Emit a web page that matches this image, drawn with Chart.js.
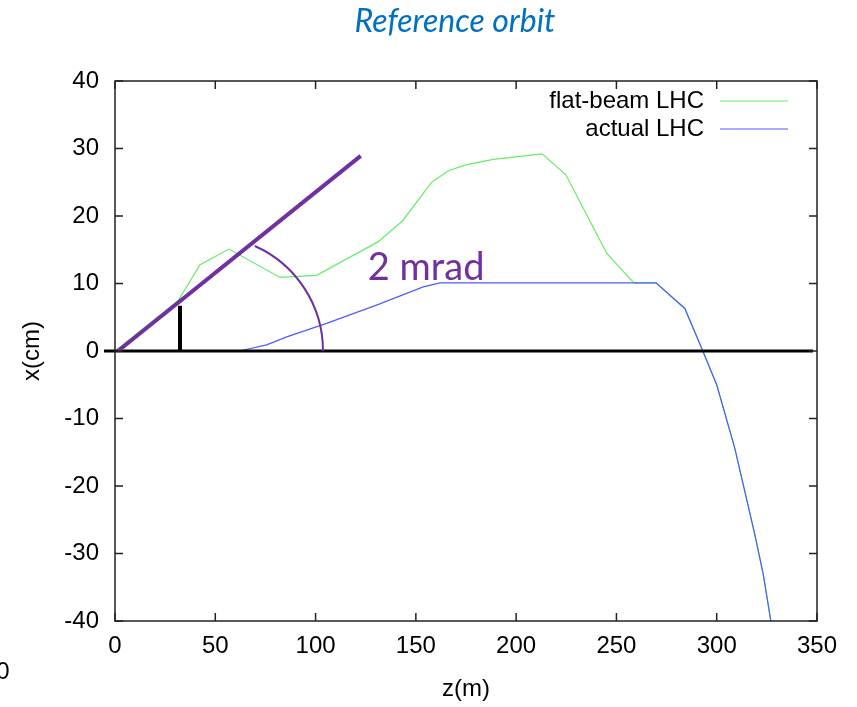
<!DOCTYPE html>
<html>
<head>
<meta charset="utf-8">
<title>Reference orbit</title>
<script src="https://cdn.jsdelivr.net/npm/chart.js@4/dist/chart.umd.min.js"></script>
<style>
  html, body { margin: 0; padding: 0; background: #fff; }
  canvas { display: block; }
</style>
</head>
<body>
<canvas id="orbitChart" width="857" height="707"></canvas>
<script>
// ---- orbit data (z in m, x in cm) ----
const flatZ = [0, 31.6, 42.4, 56.8, 82.3, 100.5, 131.3, 143.4, 157.9, 166.2, 175.3, 188.6, 213, 224.8, 245.1, 258.7, 269.7, 284.1, 292.5, 300, 309, 319, 323.2, 327];
const flatX = [0, 7.5, 12.8, 15.1, 10.9, 11.2, 16.2, 19.3, 25, 26.7, 27.6, 28.4, 29.2, 26.1, 14.5, 10.1, 10.1, 6.3, 0.4, -5, -14.4, -27.2, -33.1, -40];

const actualZ = [0, 62, 75.6, 85.6, 105.5, 130.4, 153.7, 162, 269.7, 284.1, 292.5, 300, 309, 319, 323.2, 327];
const actualX = [0, 0, 0.9, 2.1, 4.1, 6.8, 9.5, 10.1, 10.1, 6.3, 0.4, -5, -14.4, -27.2, -33.1, -40];

// ---- annotation lines ----
const slopeZ = [1.5, 122.5];     // 2 mrad crossing line
const slopeX = [0, 28.9];
const offsetZ = [32.4, 32.4];    // black marker
const offsetX = [0, 6.7];
const axisZ = [-5.5, 348];       // thick x = 0 line
const axisX = [0, 0];
const arcCenter = [46.4, 0];     // z, x
const arcRadiusZ = 57.3;
const arcAngles = [-66, 0];      // degrees
const angleLabel = "2 mrad";
const angleLabelPos = [126, 12.4];

// ---- axes ----
const zTicks = [0, 350, 50];
const xTicks = [-40, 40, 10];

const chartTitle = "Reference orbit";
const PURPLE = "#7030a0";

function toPoints(zs, xs) {
  return zs.map(function (z, i) { return { x: z, y: xs[i] }; });
}

// title, frame, inward ticks, legend and the angle annotation
const decorations = {
  id: "decorations",
  afterDatasetsDraw: function (chart) {
    const ctx = chart.ctx;
    const area = chart.chartArea;
    const sx = chart.scales.x;
    const sy = chart.scales.y;

    ctx.save();

    // title
    ctx.fillStyle = "#0070c0";
    ctx.font = "italic 32px Lato";
    ctx.textAlign = "center";
    ctx.textBaseline = "middle";
    ctx.fillText(chartTitle, 455, 22);

    // angle arc
    const cx = sx.getPixelForValue(arcCenter[0]);
    const cy = sy.getPixelForValue(arcCenter[1]);
    const r = sx.getPixelForValue(arcCenter[0] + arcRadiusZ) - cx;
    ctx.strokeStyle = PURPLE;
    ctx.lineWidth = 2;
    ctx.beginPath();
    ctx.arc(cx, cy, r, arcAngles[0] * Math.PI / 180, arcAngles[1] * Math.PI / 180);
    ctx.stroke();

    ctx.fillStyle = PURPLE;
    ctx.font = "38px Lato";
    ctx.textAlign = "left";
    ctx.fillText(angleLabel, sx.getPixelForValue(angleLabelPos[0]), sy.getPixelForValue(angleLabelPos[1]));

    // frame
    ctx.strokeStyle = "#222";
    ctx.lineWidth = 1.5;
    ctx.strokeRect(area.left, area.top, area.right - area.left, area.bottom - area.top);

    // ticks pointing inwards on all four sides
    const tl = 8;
    ctx.beginPath();
    sx.ticks.forEach(function (t) {
      const px = sx.getPixelForValue(t.value);
      ctx.moveTo(px, area.bottom); ctx.lineTo(px, area.bottom - tl);
      ctx.moveTo(px, area.top); ctx.lineTo(px, area.top + tl);
    });
    sy.ticks.forEach(function (t) {
      const py = sy.getPixelForValue(t.value);
      ctx.moveTo(area.left, py); ctx.lineTo(area.left + tl, py);
      ctx.moveTo(area.right, py); ctx.lineTo(area.right - tl, py);
    });
    ctx.stroke();

    // legend, text on the left of the sample line
    const items = chart.data.datasets.filter(function (d) { return d.inLegend; });
    ctx.font = "24px 'Liberation Sans'";
    ctx.textAlign = "right";
    items.forEach(function (d, i) {
      const y = area.top + 20 + i * 28;
      ctx.fillStyle = "#000";
      ctx.fillText(d.label, area.right - 113, y);
      ctx.strokeStyle = d.borderColor;
      ctx.lineWidth = 1.2;
      ctx.beginPath();
      ctx.moveTo(area.right - 97, y);
      ctx.lineTo(area.right - 29, y);
      ctx.stroke();
    });

    // clipped label from the neighbouring figure
    ctx.fillStyle = "#000";
    ctx.font = "24px 'Liberation Sans'";
    ctx.textAlign = "center";
    ctx.fillText("0", 3, 672);

    ctx.restore();
  }
};

const ctx = document.getElementById("orbitChart");

new Chart(ctx, {
  type: "line",

  data: {
    datasets: [
      {
        label: "slope",
        data: toPoints(slopeZ, slopeX),
        borderColor: PURPLE,
        borderWidth: 4,
        order: 0,
        clip: false
      },
      {
        label: "offset",
        data: toPoints(offsetZ, offsetX),
        borderColor: "#000",
        borderWidth: 4,
        order: 1
      },
      {
        label: "axis",
        data: toPoints(axisZ, axisX),
        borderColor: "#000",
        borderWidth: 3,
        order: 2,
        clip: false
      },
      {
        label: "flat-beam LHC",
        data: toPoints(flatZ, flatX),
        borderColor: "#66ec66",
        borderWidth: 1.2,
        order: 4,
        inLegend: true
      },
      {
        label: "actual LHC",
        data: toPoints(actualZ, actualX),
        borderColor: "#4d5cff",
        borderWidth: 1.2,
        order: 3,
        inLegend: true
      }
    ]
  },

  options: {
    responsive: false,
    animation: false,
    parsing: false,

    elements: {
      point: { radius: 0 },
      line: { tension: 0 }
    },

    layout: {
      padding: { top: 81, right: 40, bottom: 0, left: 0 }
    },

    plugins: {
      legend: { display: false },
      tooltip: { enabled: false },
      title: { display: false }
    },

    scales: {
      x: {
        type: "linear",
        min: zTicks[0],
        max: zTicks[1],
        grid: { display: false, drawTicks: false },
        border: { display: false },
        ticks: {
          stepSize: zTicks[2],
          color: "#000",
          padding: 11,
          font: { family: "Liberation Sans", size: 24 }
        },
        title: {
          display: true,
          text: "z(m)",
          color: "#000",
          font: { family: "Liberation Sans", size: 24 },
          padding: { top: 0, bottom: 3 }
        },
        afterFit: function (scale) { scale.height = 86; }
      },

      y: {
        type: "linear",
        min: xTicks[0],
        max: xTicks[1],
        grid: { display: false, drawTicks: false },
        border: { display: false },
        ticks: {
          stepSize: xTicks[2],
          color: "#000",
          padding: 16,
          font: { family: "Liberation Sans", size: 24 }
        },
        title: {
          display: true,
          text: "x(cm)",
          color: "#000",
          font: { family: "Liberation Sans", size: 24 },
          padding: { top: 18, bottom: 0 }
        },
        afterFit: function (scale) { scale.width = 115; }
      }
    }
  },

  plugins: [decorations]
});
</script>
</body>
</html>
